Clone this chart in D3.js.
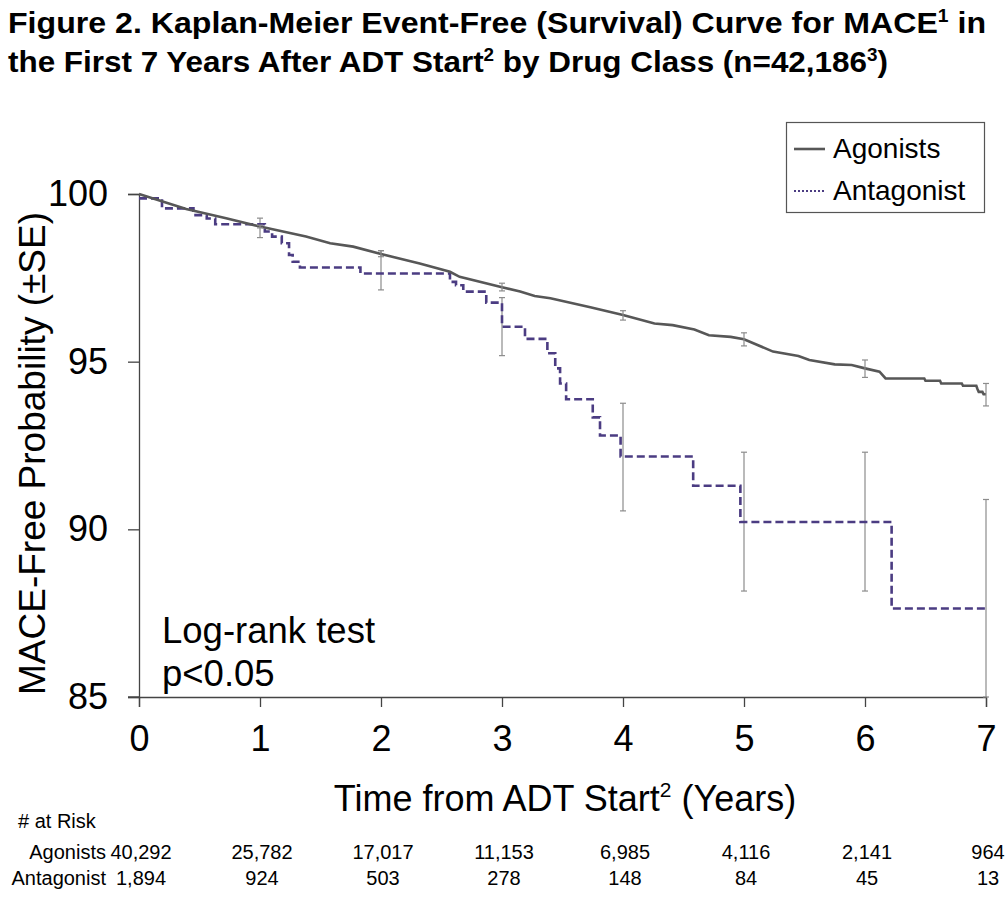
<!DOCTYPE html>
<html>
<head>
<meta charset="utf-8">
<script src="https://cdn.jsdelivr.net/npm/d3@7"></script>
<style>
    body { margin: 0; background: #fff; }
    text { font-family: "Liberation Sans", Arial, sans-serif; fill: #000; }
</style>
</head>
<body>
<div id="chart"></div>
<script>
// ---- data ----
const years = [0, 1, 2, 3, 4, 5, 6, 7];
const yTicks = [85, 90, 95, 100];

// agonists KM curve (time in years, MACE-free %)
const agonistCurve = [
    [0, 100], [0.39, 99.55], [0.72, 99.28], [1.0, 99.03], [1.38, 98.73], [1.58, 98.53],
    [1.77, 98.43], [2.0, 98.21], [2.32, 97.93], [2.57, 97.68], [2.65, 97.53], [3.0, 97.22],
    [3.15, 97.09], [3.27, 96.96], [3.40, 96.89], [3.73, 96.62], [4.0, 96.39], [4.26, 96.14],
    [4.41, 96.09], [4.59, 95.96], [4.71, 95.79], [4.89, 95.74], [5.0, 95.67], [5.24, 95.30],
    [5.45, 95.17], [5.54, 95.05], [5.75, 94.92], [5.89, 94.90], [6.0, 94.80], [6.12, 94.70],
    [6.17, 94.50], [6.49, 94.50], [6.50, 94.43], [6.62, 94.43], [6.63, 94.35], [6.80, 94.35],
    [6.81, 94.28], [6.92, 94.28], [6.93, 94.18], [6.94, 94.10], [6.97, 94.10], [6.98, 94.03],
    [7.0, 94.03]
];

// antagonist KM curve (step function)
const antagonistCurve = [
    [0, 99.87], [0.19, 99.57], [0.45, 99.37], [0.56, 99.27], [0.63, 99.10], [1.04, 98.88],
    [1.10, 98.73], [1.18, 98.53], [1.24, 98.18], [1.27, 97.98], [1.33, 97.81], [1.83, 97.63],
    [2.57, 97.38], [2.62, 97.28], [2.68, 97.09], [2.87, 96.76], [3.0, 96.04], [3.19, 95.68],
    [3.375, 95.25], [3.44, 94.80], [3.48, 94.35], [3.53, 93.88], [3.75, 93.34], [3.81, 92.80],
    [3.98, 92.17], [4.58, 91.30], [4.97, 90.22], [6.22, 87.64], [7.0, 87.64]
];

// +/- SE bars at each year: [year, low, high]
const agonistSE = [
    [1, 98.99, 99.07], [2, 98.13, 98.31], [3, 97.11, 97.34], [4, 96.24, 96.52],
    [5, 95.47, 95.86], [6, 94.53, 95.05], [7, 93.68, 94.35]
];
const antagonistSE = [
    [1, 98.70, 99.28], [2, 97.14, 98.31], [3, 95.18, 96.91], [4, 90.55, 93.76],
    [5, 88.16, 92.30], [6, 88.16, 92.30], [7, 85.0, 90.89]
];

// number at risk table
const riskGroups = ["Agonists", "Antagonist"];
const agonistsAtRisk = [40292, 25782, 17017, 11153, 6985, 4116, 2141, 964];
const antagonistAtRisk = [1894, 924, 503, 278, 148, 84, 45, 13];

// ---- drawing ----
const width = 1008, height = 898;
const plot = {left: 139, right: 986, top: 194, bottom: 697};

const svg = d3.select("#chart").append("svg")
    .attr("width", width)
    .attr("height", height);

const x = d3.scaleLinear().domain([0, 7]).range([plot.left, plot.right]);
const y = d3.scaleLinear().domain([85, 100]).range([plot.bottom, plot.top]);

const agoColor = "#575757";
const antColor = "#4b3c82";
const seColor = "#8c8c8c";

// title (narrow bold look: larger font squeezed to the original width)
const title = svg.append("g").attr("font-weight", "bold").attr("font-size", 30);
let t1 = title.append("text").attr("x", 8).attr("y", 33)
    .attr("textLength", 978).attr("lengthAdjust", "spacingAndGlyphs");
t1.append("tspan").text("Figure 2. Kaplan-Meier Event-Free (Survival) Curve for MACE");
t1.append("tspan").attr("font-size", 18).attr("dy", -11).text("1");
t1.append("tspan").attr("dy", 11).text(" in");

let t2 = title.append("text").attr("x", 8).attr("y", 72)
    .attr("textLength", 880).attr("lengthAdjust", "spacingAndGlyphs");
t2.append("tspan").text("the First 7 Years After ADT Start");
t2.append("tspan").attr("font-size", 18).attr("dy", -11).text("2");
t2.append("tspan").attr("dy", 11).text(" by Drug Class (n=42,186");
t2.append("tspan").attr("font-size", 18).attr("dy", -11).text("3");
t2.append("tspan").attr("dy", 11).text(")");

// axes
const xAxis = d3.axisBottom(x).tickValues(years).tickSize(10).tickPadding(12).tickFormat(d3.format("d"));
const yAxis = d3.axisLeft(y).tickValues(yTicks).tickSize(11).tickPadding(20).tickFormat(d3.format("d"));

const gx = svg.append("g")
    .attr("transform", "translate(0," + plot.bottom + ")")
    .call(xAxis);
const gy = svg.append("g")
    .attr("transform", "translate(" + plot.left + ",0)")
    .call(yAxis);

[gx, gy].forEach(g => {
    g.select(".domain").attr("stroke", "#444").attr("stroke-width", 1.3);
    g.selectAll(".tick line").attr("stroke", "#444").attr("stroke-width", 1.3);
    g.selectAll(".tick text")
        .attr("font-family", "'Liberation Sans', Arial, sans-serif")
        .attr("font-size", 36).attr("fill", "#000");
});
gx.selectAll(".tick text").attr("dy", "0.9em");
// x axis line reaches left to the 85 tick
gx.append("line").attr("x1", plot.left - 11).attr("x2", plot.left)
    .attr("y1", 0).attr("y2", 0).attr("stroke", "#444").attr("stroke-width", 1.3);

// axis titles
svg.append("text")
    .attr("transform", "translate(45," + ((plot.top + plot.bottom) / 2 + 8) + ") rotate(-90)")
    .attr("text-anchor", "middle").attr("font-size", 37)
    .text("MACE-Free Probability  (±SE)");

let xt = svg.append("text").attr("x", 565).attr("y", 811)
    .attr("text-anchor", "middle").attr("font-size", 36);
xt.append("tspan").text("Time from ADT Start");
xt.append("tspan").attr("font-size", 21).attr("dy", -14).text("2");
xt.append("tspan").attr("dy", 14).text(" (Years)");

// error bars
function drawSE(data, cls) {
    let g = svg.append("g").attr("class", cls)
        .attr("stroke", seColor).attr("stroke-width", 1.2);
    g.selectAll("line.v").data(data).enter().append("line")
        .attr("class", "v")
        .attr("x1", d => x(d[0])).attr("x2", d => x(d[0]))
        .attr("y1", d => y(d[1])).attr("y2", d => y(d[2]));
    g.selectAll("line.lo").data(data).enter().append("line")
        .attr("class", "lo")
        .attr("x1", d => x(d[0]) - 3).attr("x2", d => x(d[0]) + 3)
        .attr("y1", d => y(d[1])).attr("y2", d => y(d[1]));
    g.selectAll("line.hi").data(data).enter().append("line")
        .attr("class", "hi")
        .attr("x1", d => x(d[0]) - 3).attr("x2", d => x(d[0]) + 3)
        .attr("y1", d => y(d[2])).attr("y2", d => y(d[2]));
}
drawSE(antagonistSE, "se-ant");

// curves
const lineLinear = d3.line().x(d => x(d[0])).y(d => y(d[1]));
const lineStep = d3.line().x(d => x(d[0])).y(d => y(d[1])).curve(d3.curveStepAfter);

svg.append("path")
    .datum(antagonistCurve)
    .attr("d", lineStep)
    .attr("fill", "none")
    .attr("stroke", antColor)
    .attr("stroke-width", 2.6)
    .attr("stroke-dasharray", "8,4");

svg.append("path")
    .datum(agonistCurve)
    .attr("d", lineLinear)
    .attr("fill", "none")
    .attr("stroke", agoColor)
    .attr("stroke-width", 2.6);

drawSE(agonistSE, "se-ago");

// log-rank annotation
svg.append("text").attr("x", 162).attr("y", 643).attr("font-size", 36.5).text("Log-rank test");
svg.append("text").attr("x", 162).attr("y", 686).attr("font-size", 36.5).text("p<0.05");

// legend
const legend = svg.append("g");
legend.append("rect")
    .attr("x", 786.5).attr("y", 122.5).attr("width", 198).attr("height", 90)
    .attr("fill", "#fff").attr("stroke", "#555").attr("stroke-width", 1.2);
legend.append("line").attr("x1", 794).attr("x2", 825).attr("y1", 149).attr("y2", 149)
    .attr("stroke", agoColor).attr("stroke-width", 2.6);
legend.append("line").attr("x1", 794).attr("x2", 825).attr("y1", 191).attr("y2", 191)
    .attr("stroke", antColor).attr("stroke-width", 2).attr("stroke-dasharray", "2,2");
legend.append("text").attr("x", 833).attr("y", 158).attr("font-size", 28).text(riskGroups[0]);
legend.append("text").attr("x", 833).attr("y", 200).attr("font-size", 28).text(riskGroups[1]);

// number at risk table
const fmt = d3.format(",");
svg.append("text").attr("x", 18).attr("y", 828).attr("font-size", 20).text("# at Risk");
[agonistsAtRisk, antagonistAtRisk].forEach((row, i) => {
    let yy = 859 + i * 26;
    svg.append("text").attr("x", 106).attr("y", yy)
        .attr("text-anchor", "end").attr("font-size", 20).text(riskGroups[i]);
    svg.selectAll(null).data(row).enter().append("text")
        .attr("x", (d, j) => x(years[j]) + 2)
        .attr("y", yy)
        .attr("text-anchor", "middle")
        .attr("font-size", 20)
        .text(d => fmt(d));
});
</script>
</body>
</html>
